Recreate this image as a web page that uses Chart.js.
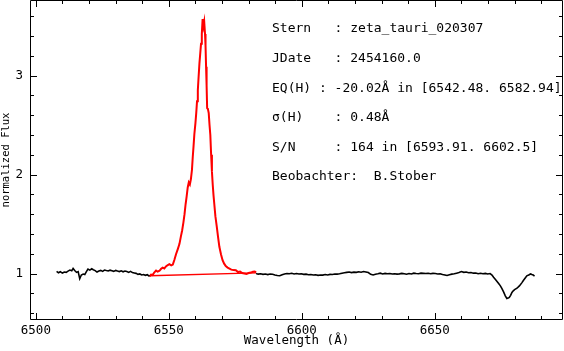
<!DOCTYPE html>
<html>
<head>
<meta charset="utf-8">
<script src="https://cdn.jsdelivr.net/npm/chart.js@4/dist/chart.umd.min.js"></script>
<style>
  html, body { margin: 0; padding: 0; background: #fff; }
  #spec { display: block; }
</style>
</head>
<body>
<canvas id="spec" width="564" height="351"></canvas>
<script>
// continuum left of the line (wavelength, flux)
const blueWave = [6507.8, 6508.5, 6509.2, 6510.0, 6510.7, 6511.4, 6512.1, 6512.8, 6513.5, 6514.0,
  6514.6, 6515.3, 6515.9, 6516.5, 6517.1, 6517.8, 6518.4, 6519.0, 6519.6, 6520.3,
  6521.0, 6521.6, 6522.3, 6523.0, 6523.7, 6524.4, 6525.1, 6525.8, 6526.5, 6527.2,
  6527.9, 6528.6, 6529.3, 6530.0, 6530.7, 6531.4, 6532.1, 6532.8, 6533.5, 6534.2,
  6534.9, 6535.6, 6536.3, 6537.0, 6537.7, 6538.4, 6539.1, 6539.8, 6540.5, 6541.2,
  6541.9, 6542.75];
const blueFlux = [1.022, 1.008, 1.018, 1.005, 1.015, 1.012, 1.025, 1.035, 1.028, 1.052,
  1.030, 1.012, 1.020, 0.948, 0.985, 0.995, 0.990, 1.020, 1.045, 1.035,
  1.048, 1.038, 1.030, 1.015, 1.025, 1.032, 1.022, 1.035, 1.030, 1.026,
  1.034, 1.028, 1.022, 1.032, 1.025, 1.020, 1.028, 1.018, 1.025, 1.020,
  1.012, 1.022, 1.010, 1.006, 1.002, 0.992, 0.996, 0.986, 0.990, 0.982,
  0.988, 0.972];

// H-alpha emission (red)
const lineWave = [6542.75, 6543.3, 6543.9, 6544.5, 6545.2, 6545.8, 6546.5, 6547.1, 6547.7, 6548.3,
  6549.0, 6549.6, 6550.2, 6550.9, 6551.5, 6552.1, 6552.7, 6553.4, 6554.0, 6554.5,
  6555.0, 6555.5, 6555.9, 6556.3, 6556.7, 6557.1, 6557.5, 6557.9, 6558.3, 6558.7,
  6559.0, 6559.3, 6559.6, 6560.0, 6560.3, 6560.6, 6560.9, 6561.2, 6561.5, 6561.8,
  6562.1, 6562.4, 6562.7, 6563.0, 6563.3, 6563.6, 6563.8, 6564.0, 6564.2, 6564.4,
  6564.7, 6565.0, 6565.3, 6565.6, 6565.9, 6566.2, 6566.5, 6566.8, 6567.1, 6567.5,
  6568.0, 6568.5, 6569.0, 6569.6, 6570.2, 6570.8, 6571.4, 6572.1, 6572.8, 6573.5,
  6574.3, 6575.2, 6576.0, 6576.8, 6577.6, 6578.4, 6579.2, 6580.0, 6580.8, 6581.6,
  6582.3, 6582.8];
const lineFlux = [0.972, 0.990, 0.985, 1.010, 1.030, 1.020, 1.028, 1.048, 1.060, 1.052,
  1.075, 1.085, 1.095, 1.082, 1.090, 1.140, 1.195, 1.250, 1.300, 1.370,
  1.435, 1.520, 1.600, 1.700, 1.780, 1.870, 1.920, 1.900, 1.955, 2.050,
  2.180, 2.290, 2.410, 2.520, 2.620, 2.740, 2.850, 2.990, 3.120, 3.220,
  3.320, 3.420, 3.570, 3.500, 3.545, 3.420, 3.300, 3.090, 2.900, 2.670,
  2.660, 2.620, 2.500, 2.400, 2.200, 2.030, 1.900, 1.790, 1.700, 1.580,
  1.480, 1.370, 1.270, 1.195, 1.135, 1.100, 1.075, 1.060, 1.050, 1.040,
  1.035, 1.034, 1.015, 1.020, 1.005, 1.000, 0.995, 1.005, 1.010, 1.018,
  1.020, 1.012];

// continuum level used for the equivalent width
const baseWave = [6542.75, 6582.8];
const baseFlux = [0.978, 1.006];

// continuum right of the line
const redWave = [6582.8, 6583.6, 6584.5, 6585.4, 6586.3, 6587.2, 6588.1, 6589.0, 6589.9, 6590.8,
  6591.7, 6592.6, 6593.5, 6594.4, 6595.3, 6596.2, 6597.1, 6598.0, 6598.9, 6599.8,
  6600.7, 6601.6, 6602.5, 6603.4, 6604.3, 6605.2, 6606.1, 6607.0, 6607.9, 6608.8,
  6609.7, 6610.6, 6611.5, 6612.4, 6613.3, 6614.2, 6615.1, 6616.0, 6616.9, 6617.8,
  6618.7, 6619.6, 6620.5, 6621.4, 6622.3, 6623.2, 6624.1, 6625.0, 6625.9, 6626.8,
  6627.7, 6628.6, 6629.5, 6630.4, 6631.3, 6632.2, 6633.1, 6634.0, 6634.9, 6635.8,
  6636.7, 6637.6, 6638.5, 6639.4, 6640.3, 6641.2, 6642.1, 6643.0, 6643.9, 6644.8,
  6645.7, 6646.6, 6647.5, 6648.4, 6649.3, 6650.2, 6651.1, 6652.0, 6652.9, 6653.8,
  6654.6, 6655.5, 6656.4, 6657.3, 6658.2, 6659.1, 6660.0, 6660.9, 6661.8, 6662.7,
  6663.6, 6664.5, 6665.4, 6666.3, 6667.2, 6668.1, 6669.0, 6669.9, 6670.8, 6671.5,
  6672.1, 6672.8, 6673.4, 6674.0, 6674.6, 6675.2, 6675.9, 6676.5, 6677.1, 6677.6,
  6678.0, 6678.5, 6679.0, 6679.5, 6680.0, 6680.9, 6681.8, 6682.7, 6683.3, 6684.0,
  6684.6, 6685.3, 6686.0, 6686.5, 6687.0, 6687.5];
const redFlux = [1.000, 0.994, 0.998, 0.992, 0.996, 0.990, 0.996, 0.993, 0.986, 0.980,
  0.978, 0.988, 0.996, 1.000, 0.998, 1.003, 0.996, 1.000, 0.995, 0.998,
  0.992, 0.994, 0.988, 0.990, 0.985, 0.988, 0.982, 0.986, 0.984, 0.990,
  0.986, 0.992, 0.990, 0.996, 0.994, 0.998, 1.004, 1.008, 1.012, 1.016,
  1.010, 1.014, 1.012, 1.018, 1.014, 1.020, 1.015, 1.010, 0.992, 0.986,
  0.994, 0.998, 1.004, 0.996, 1.002, 0.998, 1.000, 0.995, 0.998, 0.994,
  0.997, 1.002, 0.998, 0.993, 1.000, 0.996, 1.004, 1.000, 0.998, 1.004,
  1.002, 1.000, 1.003, 0.998, 1.002, 1.000, 0.996, 0.998, 0.990, 0.985,
  0.980, 0.988, 0.994, 0.998, 1.004, 1.010, 1.020, 1.012, 1.016, 1.008,
  1.010, 1.004, 1.006, 0.998, 1.003, 0.998, 1.002, 0.996, 1.000, 0.985,
  0.962, 0.940, 0.920, 0.900, 0.878, 0.850, 0.812, 0.775, 0.748, 0.752,
  0.758, 0.780, 0.810, 0.826, 0.838, 0.852, 0.875, 0.906, 0.930, 0.955,
  0.977, 0.985, 0.996, 0.990, 0.985, 0.975];

const xTicks = [6500, 6550, 6600, 6650];
const yTicks = [1, 2, 3];

const infoLines = [
  'Stern   : zeta_tauri_020307',
  'JDate   : 2454160.0',
  'EQ(H) : -20.02Å in [6542.48. 6582.94]',
  'σ(H)    : 0.48Å',
  'S/N     : 164 in [6593.91. 6602.5]',
  'Beobachter:  B.Stober'
];

const MONO = "'DejaVu Sans Mono', 'Liberation Mono', monospace";

function pts(xs, ys) {
  return xs.map((x, i) => ({ x: x, y: ys[i] }));
}

// frame with inward ticks on all four sides, plus the info text
const framePlugin = {
  id: 'frame',
  afterDraw(chart) {
    const { ctx, chartArea: a, scales } = chart;
    const sx = scales.x, sy = scales.y;
    ctx.save();
    ctx.strokeStyle = '#000';
    ctx.lineWidth = 1;
    ctx.beginPath();
    ctx.rect(a.left + 0.5, a.top + 0.5, a.right - a.left - 1, a.bottom - a.top - 1);
    ctx.stroke();

    ctx.beginPath();
    for (let v = 6500; v <= sx.max; v += 10) {
      const px = Math.round(sx.getPixelForValue(v)) + 0.5;
      const len = v % 50 === 0 ? 7 : 4;
      ctx.moveTo(px, a.bottom); ctx.lineTo(px, a.bottom - len);
      ctx.moveTo(px, a.top); ctx.lineTo(px, a.top + len);
    }
    for (let k = 3; k * 0.2 <= sy.max; k++) {
      const v = k * 0.2;
      const py = Math.round(sy.getPixelForValue(v)) + 0.5;
      const len = k % 5 === 0 ? 7 : 4;
      ctx.moveTo(a.left, py); ctx.lineTo(a.left + len, py);
      ctx.moveTo(a.right, py); ctx.lineTo(a.right - len, py);
    }
    ctx.stroke();

    ctx.fillStyle = '#000';
    ctx.font = '13px ' + MONO;
    ctx.textBaseline = 'middle';
    ctx.textAlign = 'left';
    infoLines.forEach((t, i) => {
      ctx.fillText(t, 272, 29 + i * 29.6);
    });
    ctx.restore();
  }
};

const ctx = document.getElementById('spec');

new Chart(ctx, {
  type: 'line',
  data: {
    datasets: [
      { data: pts(blueWave, blueFlux), borderColor: '#000', borderWidth: 1.6 },
      { data: pts(redWave, redFlux), borderColor: '#000', borderWidth: 1.6 },
      { data: pts(baseWave, baseFlux), borderColor: '#ff0000', borderWidth: 1.3 },
      { data: pts(lineWave, lineFlux), borderColor: '#ff0000', borderWidth: 2 }
    ]
  },
  options: {
    responsive: false,
    animation: false,
    events: [],
    elements: { point: { radius: 0 }, line: { tension: 0 } },
    layout: { padding: { top: 0, right: 1, left: 0, bottom: 0 } },
    plugins: { legend: { display: false }, tooltip: { enabled: false } },
    scales: {
      x: {
        type: 'linear',
        min: 6497.8,
        max: 6698.2,
        afterBuildTicks: s => { s.ticks = xTicks.map(v => ({ value: v })); },
        afterFit: s => { s.height = 31; s.paddingLeft = 0; s.paddingRight = 0; },
        grid: { display: false, drawTicks: false },
        border: { display: false },
        ticks: { color: '#000', font: { family: MONO, size: 12.5 }, padding: 3, maxRotation: 0, autoSkip: false,
                 callback: v => String(v) },
        title: { display: true, text: 'Wavelength (Å)', color: '#000',
                 font: { family: MONO, size: 12.5 }, padding: { top: 0, bottom: 3 } }
      },
      y: {
        type: 'linear',
        min: 0.531,
        max: 3.763,
        afterBuildTicks: s => { s.ticks = yTicks.map(v => ({ value: v })); },
        afterFit: s => { s.width = 30; s.paddingTop = 0; s.paddingBottom = 0; },
        grid: { display: false, drawTicks: false },
        border: { display: false },
        ticks: { color: '#000', font: { family: MONO, size: 12.5 }, padding: 7,
                 callback: v => String(v) },
        title: { display: true, text: 'normalized Flux', color: '#000',
                 font: { family: MONO, size: 10.5 }, padding: 0 }
      }
    }
  },
  plugins: [framePlugin]
});
</script>
</body>
</html>
